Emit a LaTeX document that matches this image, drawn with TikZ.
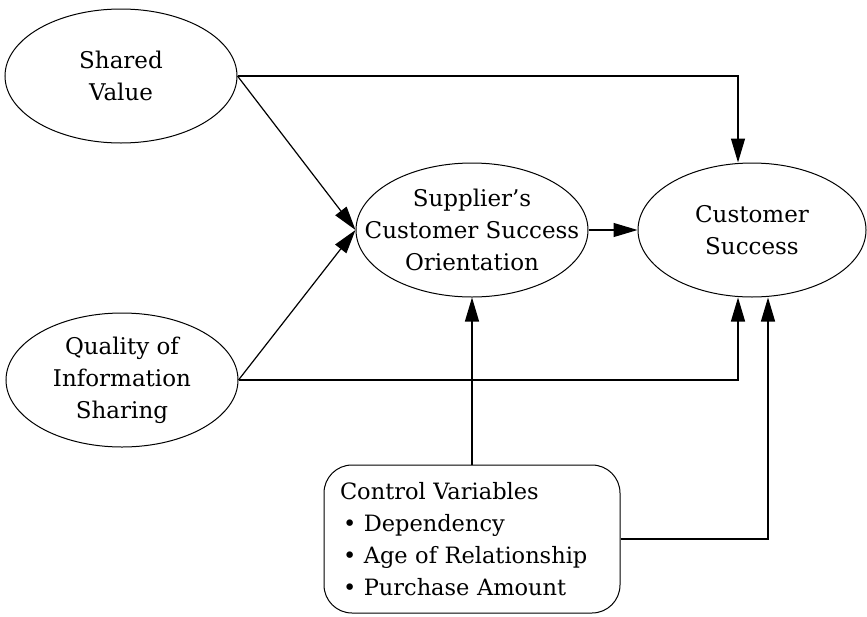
\documentclass[tikz,border=0pt]{standalone}
\usepackage{fontspec}
\setmainfont{DejaVu Serif}
\usetikzlibrary{arrows.meta,shapes.geometric}

\begin{document}
\begin{tikzpicture}[x=1pt,y=-1pt,
        construct/.style={
          draw, ellipse, line width=1pt, inner sep=-30pt,
          minimum width=232pt, minimum height=134pt,
          align=center, font=\fontsize{23}{32}\selectfont
        },
        controlbox/.style={
          draw, rounded corners=28pt, line width=1pt, inner sep=0pt,
          minimum width=296pt, minimum height=148pt, text width=264pt,
          align=left, font=\fontsize{22.5}{32}\selectfont
        },
        link/.style={
          line width=1.2pt, -{Triangle[length=24pt,width=14pt]}
        }
      ]
      \useasboundingbox (0,0) rectangle (867,616);
      \node [construct] (sv) at (121,76) {Shared\\Value};
      \node [construct] (qi) at (122,380) {Quality of\\Information\\Sharing};
      \node [construct] (so) at (472,230) {Supplier's\\Customer Success\\Orientation};
      \node [construct, minimum width=228pt] (cs) at (752,230) {Customer\\Success};
      \node [controlbox] (cv) at (472,539) {Control Variables\\
        \hspace*{3pt}• Dependency\\
        \hspace*{3pt}• Age of Relationship\\
        \hspace*{3pt}• Purchase Amount};
      % paths into the orientation
      \draw [link] (sv.east) -- (so.west);
      \draw [link] (qi.east) -- (so.west);
      \draw [link] (cv.north) -- (so.south);
      % paths into customer success
      \draw [link] (so.east) -- (cs.west);
      \draw [link] (sv.east) -| ([xshift=-14pt]cs.north);
      \draw [link] (qi.east) -| ([xshift=-14pt]cs.south);
      \draw [link] (cv.east) -| ([xshift=16pt]cs.south);
    \end{tikzpicture}
\end{document}
